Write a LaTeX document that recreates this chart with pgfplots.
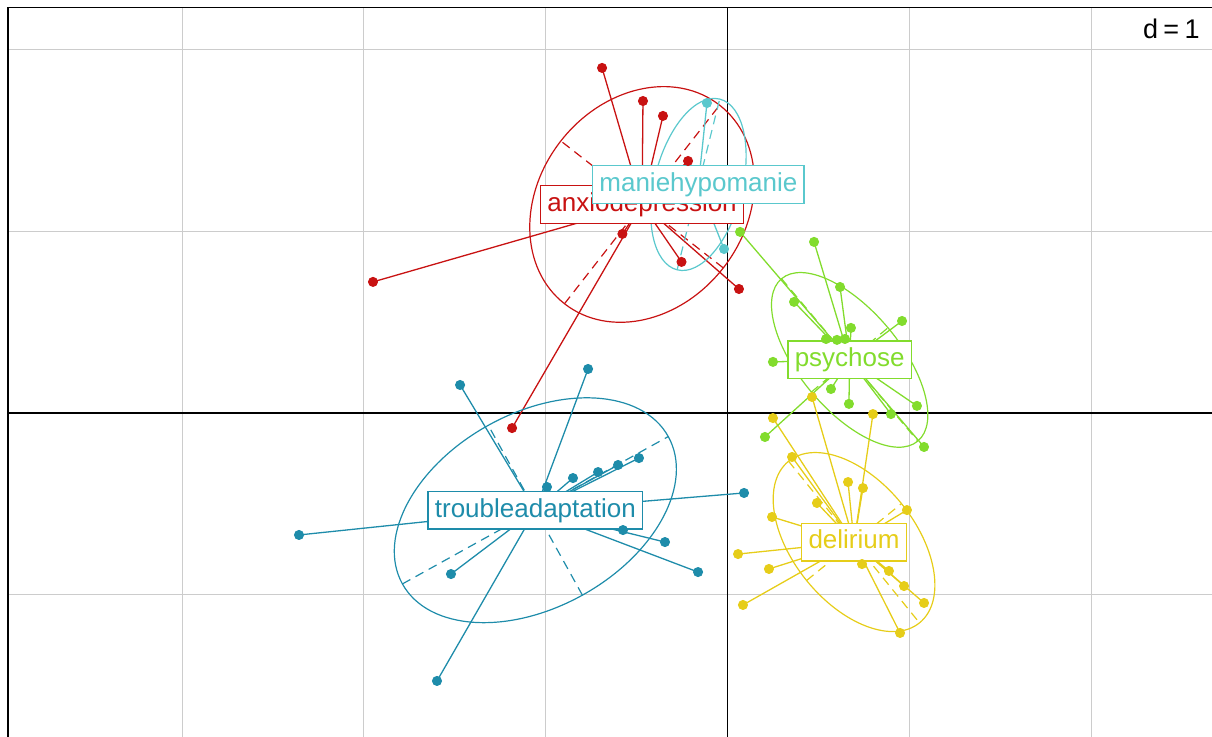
\documentclass[border=0pt]{standalone}
\usepackage{pgfplots}
\usepackage{pgfplotstable}
\pgfplotsset{compat=1.18}
\usepackage{fontspec}
\setmainfont{Liberation Sans}

\definecolor{cAnx}{RGB}{200,18,18}
\definecolor{cMan}{RGB}{90,200,205}
\definecolor{cPsy}{RGB}{130,220,45}
\definecolor{cDel}{RGB}{230,205,25}
\definecolor{cTro}{RGB}{30,140,170}

% one data unit on both axes
\def\du{90.9pt}

% individual scores, one table per class
\pgfplotstableread{
x y
-0.690 1.898
-0.465 1.716
-0.355 1.634
-0.217 1.386
-0.578 0.985
-0.253 0.831
0.063 0.682
-1.950 0.721
-1.185 -0.083
}\anx

\pgfplotstableread{
x y
-0.113 1.705
-0.019 0.902
}\man

\pgfplotstableread{
x y
0.069 0.996
0.476 0.941
0.619 0.693
0.366 0.611
0.679 0.468
0.960 0.506
0.542 0.407
0.602 0.402
0.646 0.407
0.250 0.281
0.569 0.132
0.668 0.050
1.042 0.039
0.899 -0.006
0.206 -0.132
1.081 -0.187
}\psy

\pgfplotstableread{
x y
0.465 0.088
0.250 -0.028
0.800 -0.006
0.355 -0.242
0.663 -0.380
0.745 -0.413
0.492 -0.495
0.245 -0.572
0.987 -0.534
0.058 -0.776
0.228 -0.858
0.740 -0.831
0.888 -0.869
0.971 -0.952
1.081 -1.045
0.085 -1.056
0.949 -1.210
}\del

\pgfplotstableread{
x y
-1.471 0.154
-0.767 0.242
-2.357 -0.671
-0.487 -0.248
-0.602 -0.286
-0.712 -0.325
-0.850 -0.358
-0.993 -0.407
-0.575 -0.644
-0.344 -0.710
-0.162 -0.875
-1.521 -0.886
-1.598 -1.474
0.091 -0.440
}\tro

% class ellipse with its two dashed axes: colour, cx, cy, a, b, angle
\newcommand\classellipse[6]{%
  \draw[#1, line width=0.6pt, rotate around={#6:(axis cs:#2,#3)}]
    (axis cs:#2,#3) ellipse [x radius=#4*\du, y radius=#5*\du];
  \draw[#1, line width=0.6pt, dash pattern=on 4.5pt off 3pt, rotate around={#6:(axis cs:#2,#3)}]
    (axis cs:#2,#3) ++(-#4*\du,0pt) -- ++(2*#4*\du,0pt);
  \draw[#1, line width=0.6pt, dash pattern=on 4.5pt off 3pt, rotate around={#6:(axis cs:#2,#3)}]
    (axis cs:#2,#3) ++(0pt,-#5*\du) -- ++(0pt,2*#5*\du);
}

% star from the class centre to every individual, then the individuals
\newcommand\classstar[4]{% colour, table, cx, cy
  \addplot[#1, line width=0.65pt, no marks,
    quiver={u={#3-(\thisrow{x})}, v={#4-(\thisrow{y})}}] table {#2};
  \addplot[#1, only marks, mark=*, mark size=2.3pt, mark options={draw=#1, fill=#1}] table {#2};
}

\tikzset{classlabel/.style={draw=#1, text=#1, fill=white, line width=0.75pt,
  font=\fontsize{13}{15}\selectfont, inner xsep=3.4pt, inner ysep=3.1pt,
  text height=9.7pt, text depth=2.9pt}}

\begin{document}
\begin{tikzpicture}
\begin{axis}[
  x=\du, y=\du,
  xmin=-3.958, xmax=2.8,
  ymin=-1.9, ymax=2.2305,
  xtick={-3,-2,-1,1,2}, ytick={-1,1,2},
  extra x ticks={0}, extra y ticks={0},
  extra tick style={grid=major, major grid style={black, line width=0.75pt}},
  xticklabels={}, yticklabels={},
  extra x tick labels={}, extra y tick labels={},
  major tick length=0pt,
  grid=major,
  major grid style={black!20, line width=0.5pt},
  axis line style={black, line width=0.8pt},
]
\coordinate (pic-sw) at (axis cs:-4.0017,-1.7777);
\coordinate (pic-ne) at (axis cs:2.665,2.2717);

% anxiodepression
\classellipse{cAnx}{-0.470}{1.147}{0.693}{0.567}{52}
\classstar{cAnx}{\anx}{-0.470}{1.147}
% delirium
\classellipse{cDel}{0.696}{-0.710}{0.572}{0.336}{-51}
\classstar{cDel}{\del}{0.696}{-0.710}
% maniehypomanie
\classellipse{cMan}{-0.160}{1.257}{0.484}{0.242}{76}
\classstar{cMan}{\man}{-0.160}{1.257}
% psychose
\classellipse{cPsy}{0.672}{0.292}{0.583}{0.275}{-50}
\classstar{cPsy}{\psy}{0.672}{0.292}
% troubleadaptation
\classellipse{cTro}{-1.057}{-0.535}{0.836}{0.534}{29}
\classstar{cTro}{\tro}{-1.057}{-0.535}

\node[classlabel=cAnx] at (axis cs:-0.470,1.147) {anxiodepression};
\node[classlabel=cDel] at (axis cs:0.696,-0.710) {delirium};
\node[classlabel=cMan] at (axis cs:-0.160,1.257) {maniehypomanie};
\node[classlabel=cPsy] at (axis cs:0.672,0.292) {psychose};
\node[classlabel=cTro] at (axis cs:-1.057,-0.535) {troubleadaptation};

\node[anchor=east, fill=white, inner sep=0pt, font=\fontsize{13.5}{16}\selectfont]
  at (axis cs:2.599,2.112) {d\hspace{0.2em}=\hspace{0.2em}1};
\end{axis}
\pgfresetboundingbox
\path (pic-sw) rectangle (pic-ne);
\end{tikzpicture}
\end{document}
